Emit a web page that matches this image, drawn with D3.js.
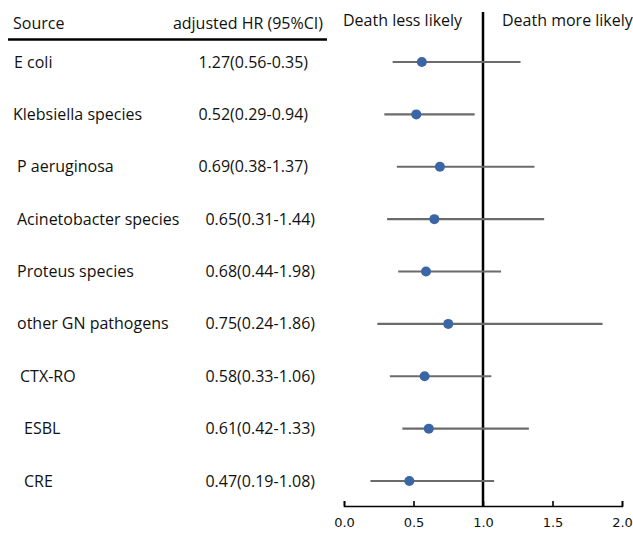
<!DOCTYPE html>
<html>
<head>
<meta charset="utf-8">
<script src="https://cdn.jsdelivr.net/npm/d3@7"></script>
<style>
  body { margin: 0; background: #fff; }
  text { font-family: 'Open Sans', 'Noto Sans', sans-serif; fill: #111; }
</style>
</head>
<body>
<div id="chart"></div>
<script>
// Data
const sources = ['E coli', 'Klebsiella species', 'P aeruginosa', 'Acinetobacter species',
  'Proteus species', 'other GN pathogens', 'CTX-RO', 'ESBL', 'CRE'];
const hrLabels = ['1.27(0.56-0.35)', '0.52(0.29-0.94)', '0.69(0.38-1.37)', '0.65(0.31-1.44)',
  '0.68(0.44-1.98)', '0.75(0.24-1.86)', '0.58(0.33-1.06)', '0.61(0.42-1.33)', '0.47(0.19-1.08)'];
const hr = [0.56, 0.52, 0.69, 0.65, 0.59, 0.75, 0.58, 0.61, 0.47];
const ciLow = [0.35, 0.29, 0.38, 0.31, 0.39, 0.24, 0.33, 0.42, 0.19];
const ciHigh = [1.27, 0.94, 1.37, 1.44, 1.13, 1.86, 1.06, 1.33, 1.08];
const xTicks = [0, 0.5, 1, 1.5, 2];

// small per-row label indents seen in the original
const labelIndent = [14, 13, 17, 17, 17, 17, 20, 24, 24];

const width = 633;
const height = 536;
const fontSize = '16px';

const svg = d3
  .select('#chart')
  .append('svg')
  .attr('width', width)
  .attr('height', height);

const x = d3.scaleLinear().domain([0, 2]).range([344, 622]);
const y = d3.scalePoint().domain(d3.range(sources.length)).range([62, 481]);

// Header
svg.append('text').attr('x', 13).attr('y', 29).style('font-size', fontSize).text('Source');
svg.append('text').attr('x', 323).attr('y', 29).attr('text-anchor', 'end')
  .style('font-size', fontSize).text('adjusted HR (95%CI)');
svg.append('line').attr('x1', 8).attr('x2', 327).attr('y1', 39.5).attr('y2', 39.5)
  .attr('stroke', '#000').attr('stroke-width', 2.5);

svg.append('text').attr('x', 343).attr('y', 26).style('font-size', fontSize).text('Death less likely');
svg.append('text').attr('x', 502).attr('y', 26).style('font-size', fontSize).text('Death more likely');

// Row labels
svg.selectAll('.src').data(sources).enter().append('text')
  .attr('class', 'src')
  .attr('x', (d, i) => labelIndent[i])
  .attr('y', (d, i) => y(i))
  .attr('dy', '0.35em')
  .style('font-size', fontSize)
  .text((d) => d);

svg.selectAll('.hr').data(hrLabels).enter().append('text')
  .attr('class', 'hr')
  .attr('x', (d, i) => (i < 3 ? 308 : 315))
  .attr('y', (d, i) => y(i))
  .attr('dy', '0.35em')
  .attr('text-anchor', 'end')
  .style('font-size', fontSize)
  .text((d) => d);

// Axis
const axis = svg.append('g')
  .attr('transform', 'translate(0, 506)')
  .call(d3.axisBottom(x).tickValues(xTicks).tickFormat(d3.format('.1f'))
    .tickSizeInner(-5).tickSizeOuter(-5).tickPadding(12));
axis.select('.domain').attr('stroke-width', 1.6);
axis.selectAll('.tick line').attr('stroke-width', 1.6);
axis.selectAll('.tick text')
  .style('font-size', '13px')
  .style('font-family', "'DejaVu Sans', sans-serif")
  .attr('fill', '#222');

// Reference line
svg.append('line').attr('x1', x(1)).attr('x2', x(1)).attr('y1', 12).attr('y2', 506)
  .attr('stroke', '#000').attr('stroke-width', 2.5);

// CI lines
svg.selectAll('.ci').data(hr).enter().append('line')
  .attr('class', 'ci')
  .attr('x1', (d, i) => x(ciLow[i]))
  .attr('x2', (d, i) => x(ciHigh[i]))
  .attr('y1', (d, i) => y(i))
  .attr('y2', (d, i) => y(i))
  .attr('stroke', '#6b6b6b')
  .attr('stroke-width', 2.2);

// Points
svg.selectAll('.pt').data(hr).enter().append('circle')
  .attr('class', 'pt')
  .attr('cx', (d) => x(d))
  .attr('cy', (d, i) => y(i))
  .attr('r', 5)
  .attr('fill', '#3a66a6');
</script>
</body>
</html>
